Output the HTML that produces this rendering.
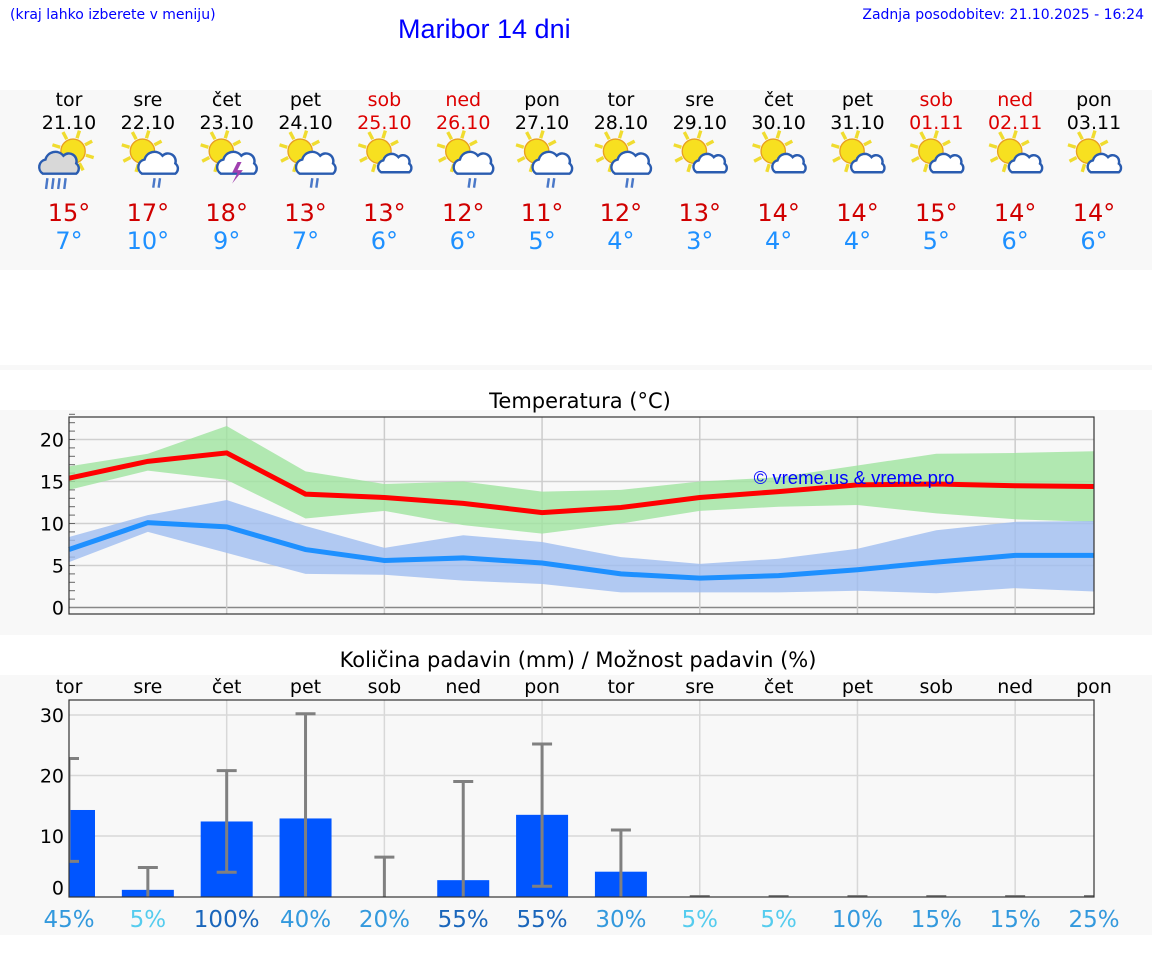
<!DOCTYPE html>
<html><head><meta charset="utf-8">
<style>
body{margin:0;width:1152px;height:975px;background:#fff;font-family:"DejaVu Sans","Liberation Sans",sans-serif;position:relative;overflow:hidden}
.t{position:absolute;white-space:nowrap}
</style></head>
<body>
<div class="t" style="left:10px;top:7px;font-size:14px;color:#00f">(kraj lahko izberete v meniju)</div>
<div class="t" style="left:398px;top:14px;font-size:27px;color:#00f;font-family:'Liberation Sans',sans-serif">Maribor 14 dni</div>
<div class="t" style="right:8px;top:7px;font-size:14px;color:#00f">Zadnja posodobitev: 21.10.2025 - 16:24</div>
<svg id="s" width="1152" height="975" style="position:absolute;left:0;top:0" font-family="DejaVu Sans, Liberation Sans, sans-serif"></svg>
<script>
const days=["tor","sre","čet","pet","sob","ned","pon","tor","sre","čet","pet","sob","ned","pon"];
const dates=["21.10","22.10","23.10","24.10","25.10","26.10","27.10","28.10","29.10","30.10","31.10","01.11","02.11","03.11"];
const weekend=[0,0,0,0,1,1,0,0,0,0,0,1,1,0];
const icons=["rain","drizzle","storm","drizzle","cloud","drizzle","drizzle","drizzle","cloud","cloud","cloud","cloud","cloud","cloud"];
const tmax=[15.4,17.4,18.4,13.5,13.1,12.4,11.3,11.9,13.1,13.8,14.6,14.7,14.5,14.4];
const tmaxLo=[14,16.3,15.2,10.6,11.5,9.8,8.8,10,11.5,12,12.2,11.2,10.5,10.2];
const tmaxHi=[16.8,18.3,21.6,16.2,14.7,15,13.8,14,15,15.5,16.9,18.3,18.4,18.6];
const tmin=[6.9,10.1,9.6,6.9,5.6,5.9,5.3,4,3.5,3.8,4.5,5.4,6.2,6.2];
const tminLo=[5.4,9,6.5,4,3.9,3.2,2.8,1.8,1.8,1.8,2,1.7,2.3,1.9];
const tminHi=[8.4,11,12.8,9.7,7.1,8.6,7.8,6,5.2,5.8,7,9.2,10.2,10.3];
const maxLabels=["15°","17°","18°","13°","13°","12°","11°","12°","13°","14°","14°","15°","14°","14°"];
const minLabels=["7°","10°","9°","7°","6°","6°","5°","4°","3°","4°","4°","5°","6°","6°"];
const precip=[14.3,1.1,12.4,12.9,0,2.7,13.5,4.1,0,0,0,0,0,0];
const errLo=[5.8,0,4,0,0,0,1.7,0,0,0,0,0,0,0];
const errHi=[22.8,4.8,20.8,30.2,6.5,19,25.2,11,0,0,0,0,0,0];
const chance=[45,5,100,40,20,55,55,30,5,5,10,15,15,25];
const tempTicks=[0,5,10,15,20];
const precTicks=[0,10,20,30];

const NS="http://www.w3.org/2000/svg",S=document.getElementById('s');
function mk(tag,a,p){const e=document.createElementNS(NS,tag);for(const k in a)e.setAttribute(k,a[k]);(p||S).appendChild(e);return e;}
const x0=69,x1=1094,step=(x1-x0)/13;
const X=i=>x0+i*step;
let r;
r=mk('rect',{x:0,y:90,width:1152,height:180,fill:'#f8f8f8'});
r=mk('rect',{x:0,y:365,width:1152,height:5,fill:'#f8f8f8'});
r=mk('rect',{x:0,y:410,width:1152,height:225,fill:'#f8f8f8'});
r=mk('rect',{x:0,y:675,width:1152,height:260,fill:'#f8f8f8'});

function txt(x,y,s,size,fill,anchor,name){const t=mk('text',{x:x,y:y,'font-size':size,fill:fill,'text-anchor':anchor||'middle'});t.textContent=s;return t;}
function icon(cx,cy,type,i){
  const g=mk('g',{transform:`translate(${cx},${cy}) scale(1.35) translate(${-cx},${-cy})`});
  const sx=cx+(type==='rain'?3:-4),sy=cy-8;
  for(let k=0;k<8;k++){const a=k*Math.PI/4+0.3;mk('line',{x1:sx+Math.cos(a)*10,y1:sy+Math.sin(a)*10,x2:sx+Math.cos(a)*16,y2:sy+Math.sin(a)*16,stroke:'#f0dc30','stroke-width':2.5},g);}
  mk('circle',{cx:sx,cy:sy,r:9,fill:'#f7e020',stroke:'#e8a020','stroke-width':1},g);
  const cf=type==='rain'?'#d8d8d8':'#fff';
  const big=type!=='cloud';
  const ox=type==='rain'?cx-7:cx+8, oy=cy+2, sc=big?0.95:0.8;
  mk('path',{d:`M${ox-13*sc},${oy+7*sc} a${6*sc} ${6*sc} 0 0 1 ${2*sc},${-11*sc} a${8*sc} ${8*sc} 0 0 1 ${14*sc},${-3*sc} a${6*sc} ${6*sc} 0 0 1 ${10*sc},${6*sc} a${5*sc} ${5*sc} 0 0 1 0,${8*sc} z`,fill:cf,stroke:'#2a5cb0','stroke-width':1.8},g);
  if(type==='rain'){for(let k=0;k<4;k++)mk('line',{x1:ox-9+k*4.5,y1:oy+10,x2:ox-10+k*4.5,y2:oy+18,stroke:'#4a78c8','stroke-width':1.8},g);}
  if(type==='drizzle'){for(let k=0;k<2;k++)mk('line',{x1:ox-3+k*4,y1:oy+10,x2:ox-4+k*4,y2:oy+17,stroke:'#4a78c8','stroke-width':1.8},g);}
  if(type==='storm'){mk('path',{d:`M${ox},${oy-2} l-4,8 h4 l-4,8 l8,-10 h-4 l3,-6 z`,fill:'#a040b0'},g);}
}
for(let i=0;i<14;i++){
  const c=weekend[i]?'#d00':'#000';
  txt(X(i),106,days[i],19,c,'middle','day-name-'+i);
  txt(X(i),129,dates[i],19,c,'middle','date-'+i);
  icon(X(i),162,icons[i],i);
  txt(X(i),221,maxLabels[i],24,'#d00000','middle','max-temp-'+i);
  txt(X(i),249,minLabels[i],24,'#1e90ff','middle','min-temp-'+i);
}
txt(580,408,'Temperatura (°C)',21,'#000','middle','temp-chart-title');
const ty0=417,ty1=614,Ty=v=>607.5-v*8.4;
for(const v of tempTicks){mk('line',{x1:x0,x2:x1,y1:Ty(v),y2:Ty(v),stroke:v===0?'#888':'#d0d0d0','stroke-width':1.5});txt(64,Ty(v)+7,String(v),19,'#000','end','temp-tick-'+v);}
for(let v=1;v<=23;v++){mk('line',{x1:x0,x2:x0+6,y1:Ty(v),y2:Ty(v),stroke:'#666','stroke-width':1});}
for(let i=2;i<14;i+=2)mk('line',{x1:X(i),x2:X(i),y1:ty0,y2:ty1,stroke:'#ccc','stroke-width':1.5});
function band(lo,hi,fill,name){let d='';lo.forEach((v,i)=>d+=(i?'L':'M')+X(i)+','+Ty(v));for(let i=hi.length-1;i>=0;i--)d+='L'+X(i)+','+Ty(hi[i]);const p=mk('path',{d:d+'Z',fill:fill,opacity:0.8});}
function line(vals,col,name){const p=mk('polyline',{points:vals.map((v,i)=>X(i)+','+Ty(v)).join(' '),fill:'none',stroke:col,'stroke-width':5});}
band(tmaxLo,tmaxHi,'#9fe39f','max-temp-band');
band(tminLo,tminHi,'#9fbdf0','min-temp-band');
line(tmin,'#1e90ff','min-temp-line');
line(tmax,'#ff0000','max-temp-line');
const wm=txt(854,484,'© vreme.us & vreme.pro',18.5,'#00f','middle','watermark');wm.setAttribute('font-family','Liberation Sans, sans-serif');
mk('rect',{x:x0,y:ty0,width:x1-x0,height:ty1-ty0,fill:'none',stroke:'#333','stroke-width':1.2});
txt(578,667,'Količina padavin (mm) / Možnost padavin (%)',21,'#000','middle','precip-chart-title');
const py0=700,py1=897,Py=v=>896.5-v*6.05;
for(let i=0;i<14;i++)txt(X(i),693,days[i],19,'#000','middle','precip-day-'+i);
for(const v of precTicks){if(v>0)mk('line',{x1:x0,x2:x1,y1:Py(v),y2:Py(v),stroke:'#d8d8d8','stroke-width':1.5});txt(64,(v===0?Py(v)-2:Py(v)+7),String(v),19,'#000','end','precip-tick-'+v);}
for(let i=2;i<14;i+=2)mk('line',{x1:X(i),x2:X(i),y1:py0,y2:py1,stroke:'#d8d8d8','stroke-width':1.5});
const cl=mk('clipPath',{id:'pc'});mk('rect',{x:x0,y:py0,width:x1-x0,height:py1-py0},cl);
const pg=mk('g',{'clip-path':'url(#pc)'});
for(let i=0;i<14;i++){
  if(precip[i]>0){const b=mk('rect',{x:X(i)-26,y:Py(precip[i]),width:52,height:Py(0)-Py(precip[i])+1,fill:'#0055ff'},pg);}
  const e=mk('g',{},pg);
  mk('line',{x1:X(i),x2:X(i),y1:Py(errLo[i]),y2:Py(errHi[i]),stroke:'#808080','stroke-width':3},e);
  mk('line',{x1:X(i)-10,x2:X(i)+10,y1:Py(errHi[i]),y2:Py(errHi[i]),stroke:'#808080','stroke-width':3},e);
  if(errLo[i]>0)mk('line',{x1:X(i)-10,x2:X(i)+10,y1:Py(errLo[i]),y2:Py(errLo[i]),stroke:'#808080','stroke-width':3},e);
}
mk('rect',{x:x0,y:py0,width:x1-x0,height:py1-py0,fill:'none',stroke:'#333','stroke-width':1.2});
for(let i=0;i<14;i++){const p=chance[i];const c=p>=50?'#1a66bb':(p<=5?'#55ccee':'#3399dd');txt(X(i),927,p+'%',23,c,'middle','precip-chance-'+i);}
</script>
</body></html>
